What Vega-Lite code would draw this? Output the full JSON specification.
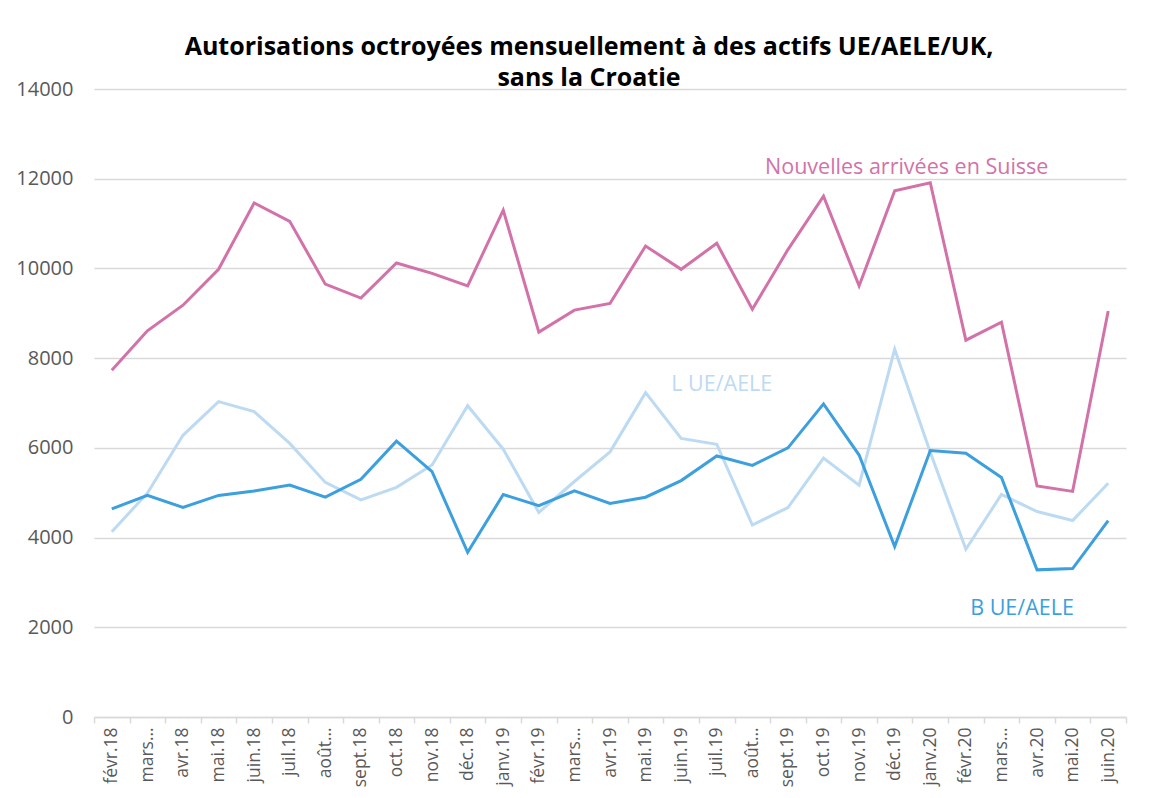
{
  "$schema": "https://vega.github.io/schema/vega-lite/v6.json",
  "autosize": "none",
  "width": 1032,
  "height": 628,
  "padding": {"left": 94, "top": 89, "right": 29, "bottom": 81},
  "background": "white",
  "config": {
    "view": {"stroke": null},
    "font": "Open Sans"
  },
  "title": {
    "text": ["Autorisations octroyées mensuellement à des actifs UE/AELE/UK,", "sans la Croatie"],
    "font": "Open Sans",
    "fontSize": 25,
    "fontWeight": "bold",
    "color": "#000000",
    "anchor": "middle",
    "dx": -21,
    "lineHeight": 31,
    "offset": -12
  },
  "layer": [
    {
      "data": {"values": [
      {"month": "févr.18", "serie": "Nouvelles arrivées en Suisse", "n": 7730},
      {"month": "mars.18", "serie": "Nouvelles arrivées en Suisse", "n": 8610},
      {"month": "avr.18", "serie": "Nouvelles arrivées en Suisse", "n": 9180},
      {"month": "mai.18", "serie": "Nouvelles arrivées en Suisse", "n": 9980},
      {"month": "juin.18", "serie": "Nouvelles arrivées en Suisse", "n": 11460},
      {"month": "juil.18", "serie": "Nouvelles arrivées en Suisse", "n": 11050},
      {"month": "août.18", "serie": "Nouvelles arrivées en Suisse", "n": 9650},
      {"month": "sept.18", "serie": "Nouvelles arrivées en Suisse", "n": 9340},
      {"month": "oct.18", "serie": "Nouvelles arrivées en Suisse", "n": 10120},
      {"month": "nov.18", "serie": "Nouvelles arrivées en Suisse", "n": 9890},
      {"month": "déc.18", "serie": "Nouvelles arrivées en Suisse", "n": 9610},
      {"month": "janv.19", "serie": "Nouvelles arrivées en Suisse", "n": 11300},
      {"month": "févr.19", "serie": "Nouvelles arrivées en Suisse", "n": 8580},
      {"month": "mars.19", "serie": "Nouvelles arrivées en Suisse", "n": 9070},
      {"month": "avr.19", "serie": "Nouvelles arrivées en Suisse", "n": 9220},
      {"month": "mai.19", "serie": "Nouvelles arrivées en Suisse", "n": 10500},
      {"month": "juin.19", "serie": "Nouvelles arrivées en Suisse", "n": 9980},
      {"month": "juil.19", "serie": "Nouvelles arrivées en Suisse", "n": 10560},
      {"month": "août.19", "serie": "Nouvelles arrivées en Suisse", "n": 9090},
      {"month": "sept.19", "serie": "Nouvelles arrivées en Suisse", "n": 10420},
      {"month": "oct.19", "serie": "Nouvelles arrivées en Suisse", "n": 11610},
      {"month": "nov.19", "serie": "Nouvelles arrivées en Suisse", "n": 9610},
      {"month": "déc.19", "serie": "Nouvelles arrivées en Suisse", "n": 11730},
      {"month": "janv.20", "serie": "Nouvelles arrivées en Suisse", "n": 11910},
      {"month": "févr.20", "serie": "Nouvelles arrivées en Suisse", "n": 8400},
      {"month": "mars.20", "serie": "Nouvelles arrivées en Suisse", "n": 8800},
      {"month": "avr.20", "serie": "Nouvelles arrivées en Suisse", "n": 5150},
      {"month": "mai.20", "serie": "Nouvelles arrivées en Suisse", "n": 5030},
      {"month": "juin.20", "serie": "Nouvelles arrivées en Suisse", "n": 9050},
      {"month": "févr.18", "serie": "L UE/AELE", "n": 4130},
      {"month": "mars.18", "serie": "L UE/AELE", "n": 4990},
      {"month": "avr.18", "serie": "L UE/AELE", "n": 6280},
      {"month": "mai.18", "serie": "L UE/AELE", "n": 7030},
      {"month": "juin.18", "serie": "L UE/AELE", "n": 6810},
      {"month": "juil.18", "serie": "L UE/AELE", "n": 6100},
      {"month": "août.18", "serie": "L UE/AELE", "n": 5230},
      {"month": "sept.18", "serie": "L UE/AELE", "n": 4840},
      {"month": "oct.18", "serie": "L UE/AELE", "n": 5120},
      {"month": "nov.18", "serie": "L UE/AELE", "n": 5620},
      {"month": "déc.18", "serie": "L UE/AELE", "n": 6940},
      {"month": "janv.19", "serie": "L UE/AELE", "n": 5970},
      {"month": "févr.19", "serie": "L UE/AELE", "n": 4560},
      {"month": "mars.19", "serie": "L UE/AELE", "n": 5250},
      {"month": "avr.19", "serie": "L UE/AELE", "n": 5910},
      {"month": "mai.19", "serie": "L UE/AELE", "n": 7230},
      {"month": "juin.19", "serie": "L UE/AELE", "n": 6210},
      {"month": "juil.19", "serie": "L UE/AELE", "n": 6080},
      {"month": "août.19", "serie": "L UE/AELE", "n": 4280},
      {"month": "sept.19", "serie": "L UE/AELE", "n": 4670},
      {"month": "oct.19", "serie": "L UE/AELE", "n": 5770},
      {"month": "nov.19", "serie": "L UE/AELE", "n": 5170},
      {"month": "déc.19", "serie": "L UE/AELE", "n": 8200},
      {"month": "janv.20", "serie": "L UE/AELE", "n": 5900},
      {"month": "févr.20", "serie": "L UE/AELE", "n": 3740},
      {"month": "mars.20", "serie": "L UE/AELE", "n": 4960},
      {"month": "avr.20", "serie": "L UE/AELE", "n": 4580},
      {"month": "mai.20", "serie": "L UE/AELE", "n": 4380},
      {"month": "juin.20", "serie": "L UE/AELE", "n": 5210},
      {"month": "févr.18", "serie": "B UE/AELE", "n": 4640},
      {"month": "mars.18", "serie": "B UE/AELE", "n": 4940},
      {"month": "avr.18", "serie": "B UE/AELE", "n": 4670},
      {"month": "mai.18", "serie": "B UE/AELE", "n": 4940},
      {"month": "juin.18", "serie": "B UE/AELE", "n": 5040},
      {"month": "juil.18", "serie": "B UE/AELE", "n": 5170},
      {"month": "août.18", "serie": "B UE/AELE", "n": 4900},
      {"month": "sept.18", "serie": "B UE/AELE", "n": 5300},
      {"month": "oct.18", "serie": "B UE/AELE", "n": 6150},
      {"month": "nov.18", "serie": "B UE/AELE", "n": 5470},
      {"month": "déc.18", "serie": "B UE/AELE", "n": 3670},
      {"month": "janv.19", "serie": "B UE/AELE", "n": 4960},
      {"month": "févr.19", "serie": "B UE/AELE", "n": 4710},
      {"month": "mars.19", "serie": "B UE/AELE", "n": 5040},
      {"month": "avr.19", "serie": "B UE/AELE", "n": 4760},
      {"month": "mai.19", "serie": "B UE/AELE", "n": 4900},
      {"month": "juin.19", "serie": "B UE/AELE", "n": 5270},
      {"month": "juil.19", "serie": "B UE/AELE", "n": 5820},
      {"month": "août.19", "serie": "B UE/AELE", "n": 5610},
      {"month": "sept.19", "serie": "B UE/AELE", "n": 6000},
      {"month": "oct.19", "serie": "B UE/AELE", "n": 6980},
      {"month": "nov.19", "serie": "B UE/AELE", "n": 5840},
      {"month": "déc.19", "serie": "B UE/AELE", "n": 3800},
      {"month": "janv.20", "serie": "B UE/AELE", "n": 5940},
      {"month": "févr.20", "serie": "B UE/AELE", "n": 5880},
      {"month": "mars.20", "serie": "B UE/AELE", "n": 5340},
      {"month": "avr.20", "serie": "B UE/AELE", "n": 3280},
      {"month": "mai.20", "serie": "B UE/AELE", "n": 3310},
      {"month": "juin.20", "serie": "B UE/AELE", "n": 4380}
      ]},
      "mark": {"type": "line", "strokeWidth": 3},
      "encoding": {
        "x": {
          "field": "month",
          "type": "nominal",
          "sort": null,
          "bandPosition": 0.5,
          "scale": {"type": "band", "paddingInner": 0, "paddingOuter": 0},
          "axis": {
            "title": null,
            "labelAngle": -90,
            "labelFont": "Open Sans",
            "labelFontSize": 17.5,
            "labelColor": "#595959",
            "labelPadding": 4,
            "labelExpr": "test(/^(mars|août)/, '' + datum.value) ? slice('' + datum.value, 0, 4) + '…' : datum.label",
            "domainColor": "#d9d9d9",
            "domainWidth": 1.5,
            "tickColor": "#d9d9d9",
            "tickWidth": 1.5,
            "tickSize": 6,
            "tickBand": "extent",
            "grid": false
          }
        },
        "y": {
          "field": "n",
          "type": "quantitative",
          "scale": {"domain": [0, 14000], "nice": false},
          "axis": {
            "title": null,
            "values": [0, 2000, 4000, 6000, 8000, 10000, 12000, 14000],
            "format": "d",
            "labelFont": "Open Sans",
            "labelFontSize": 20,
            "labelColor": "#595959",
            "labelPadding": 21,
            "domain": false,
            "ticks": false,
            "grid": true,
            "gridColor": "#d9d9d9",
            "gridWidth": 1.5
          }
        },
        "color": {
          "field": "serie",
          "type": "nominal",
          "legend": null,
          "scale": {
            "domain": ["Nouvelles arrivées en Suisse", "L UE/AELE", "B UE/AELE"],
            "range": ["#d272a9", "#bddaf3", "#3c9fde"]
          }
        }
      }
    },
    {
      "data": {"values": [
        {"month": "déc.19", "serie": "Nouvelles arrivées en Suisse", "n": 12240, "label": "Nouvelles arrivées en Suisse"}
      ]},
      "mark": {"type": "text", "font": "Open Sans", "fontSize": 21.5, "align": "center", "baseline": "middle", "dx": 12},
      "encoding": {
        "x": {"field": "month", "type": "nominal", "sort": null, "bandPosition": 0.5},
        "y": {"field": "n", "type": "quantitative"},
        "color": {"field": "serie", "type": "nominal"},
        "text": {"field": "label"}
      }
    },
    {
      "data": {"values": [
        {"month": "juil.19", "serie": "L UE/AELE", "n": 7400, "label": "L UE/AELE"}
      ]},
      "mark": {"type": "text", "font": "Open Sans", "fontSize": 21.5, "align": "center", "baseline": "middle", "dx": 5},
      "encoding": {
        "x": {"field": "month", "type": "nominal", "sort": null, "bandPosition": 0.5},
        "y": {"field": "n", "type": "quantitative"},
        "color": {"field": "serie", "type": "nominal"},
        "text": {"field": "label"}
      }
    },
    {
      "data": {"values": [
        {"month": "avr.20", "serie": "B UE/AELE", "n": 2410, "label": "B UE/AELE"}
      ]},
      "mark": {"type": "text", "font": "Open Sans", "fontSize": 21.5, "align": "center", "baseline": "middle", "dx": -15},
      "encoding": {
        "x": {"field": "month", "type": "nominal", "sort": null, "bandPosition": 0.5},
        "y": {"field": "n", "type": "quantitative"},
        "color": {"field": "serie", "type": "nominal"},
        "text": {"field": "label"}
      }
    }
  ]
}
